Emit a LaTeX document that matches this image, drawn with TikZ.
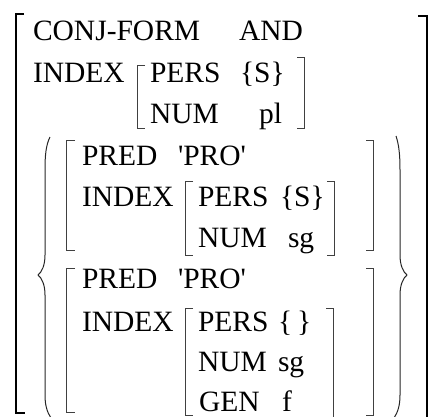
\documentclass[tikz,border=0pt]{standalone}
\usepackage{fontspec}
\setmainfont{Liberation Serif}
\begin{document}
\begin{tikzpicture}[x=1pt,y=-1pt,
  lbl/.style={anchor=base west,inner sep=0pt,outer sep=0pt,font=\fontsize{29.5}{35}\selectfont},
  outerbr/.style={line width=1.3pt,black},
  avmbr/.style={line width=0.9pt,black!75},
  bracebr/.style={line width=1pt,black!85}]
\useasboundingbox (0,0) rectangle (428,416);
% outer matrix
\draw[outerbr] (24,14) -- (16,14) -- (16,413) -- (25,413);
\draw[outerbr] (418,16) -- (427,16) -- (427,417);
\node[lbl] (cf) at (33,40) {CONJ-FORM};
\node[lbl] (and) at (239,40) {AND};
\node[lbl] (idx0) at (33,82) {INDEX};
\node[lbl] (pers0) at (150,82) {PERS};
\node[lbl] (pv0) at (240,82) {\{S\}};
\node[lbl] (num0) at (150,123) {NUM};
\node[lbl] (nv0) at (259,123) {pl};
\draw[avmbr] (145,65) -- (137,65) -- (137,128) -- (145,128);
\draw[avmbr] (297,57) -- (304,57) -- (304,128) -- (297,128);
% braces
\draw[bracebr] (50,137) .. controls (46,145) and (45,155) .. (45,170) -- (45,255)
  .. controls (45,265) and (42,272) .. (38,275)
  .. controls (42,278) and (45,285) .. (45,295) -- (45,395)
  .. controls (45,405) and (47,412) .. (51,418);
\draw[bracebr] (396,136) .. controls (399,145) and (400,155) .. (400,170) -- (400,255)
  .. controls (400,265) and (403,272) .. (407,275)
  .. controls (403,278) and (400,285) .. (400,295) -- (400,395)
  .. controls (400,405) and (398,412) .. (394,418);
% first AVM
\draw[avmbr] (75,140) -- (66,140) -- (66,250) -- (75,250);
\draw[avmbr] (366,140) -- (373,140) -- (373,250) -- (366,250);
\node[lbl] (pred1) at (82,165) {PRED};
\node[lbl] (pro1) at (178,165) {\textquotesingle PRO\textquotesingle};
\node[lbl] (idx1) at (82,206) {INDEX};
\node[lbl] (pers1) at (198,206) {PERS};
\node[lbl] (pv1) at (280,206) {\{S\}};
\node[lbl] (num1) at (198,247) {NUM};
\node[lbl] (nv1) at (288,247) {sg};
\draw[avmbr] (193,181) -- (185,181) -- (185,255) -- (193,255);
\draw[avmbr] (327,181) -- (334,181) -- (334,255) -- (327,255);
% second AVM
\draw[avmbr] (75,268) -- (66,268) -- (66,412) -- (75,412);
\draw[avmbr] (366,268) -- (373,268) -- (373,415) -- (366,415);
\node[lbl] (pred2) at (82,288) {PRED};
\node[lbl] (pro2) at (178,288) {\textquotesingle PRO\textquotesingle};
\node[lbl] (idx2) at (82,331) {INDEX};
\node[lbl] (pers2) at (198,331) {PERS};
\node[lbl] (pv2) at (278,331) {\{\,\}};
\node[lbl] (num2) at (198,371) {NUM};
\node[lbl] (nv2) at (278,371) {sg};
\node[lbl] (gen2) at (199,411) {GEN};
\node[lbl] (gv2) at (282,411) {f};
\draw[avmbr] (193,308) -- (185,308) -- (185,415) -- (193,415);
\draw[avmbr] (326,308) -- (333,308) -- (333,417);
\end{tikzpicture}
\end{document}
